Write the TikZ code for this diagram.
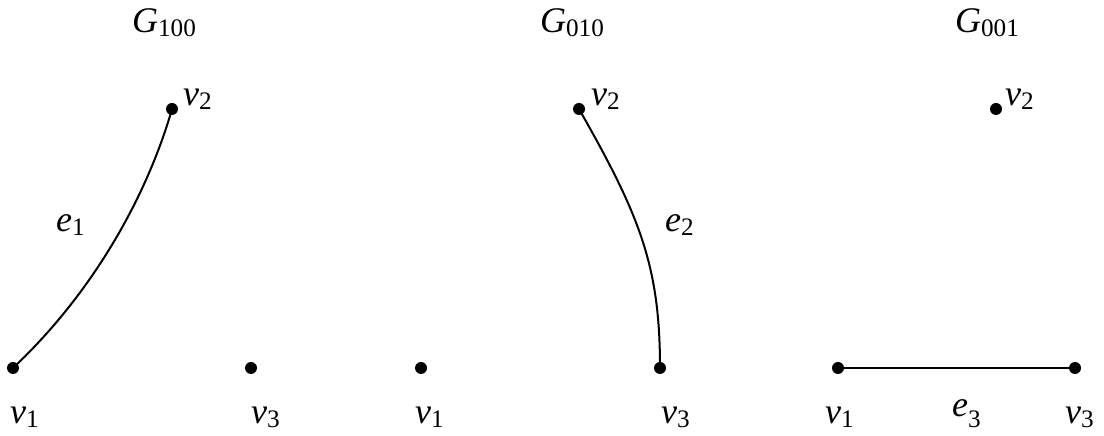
\documentclass[tikz,border=0pt]{standalone}
\usepackage{fontspec}
\usepackage{graphicx}
\setmainfont{Liberation Serif}
\newcommand\lblsub[3][-0.11em]{\textit{#2}\raisebox{#1}{\scalebox{0.7}{#3}}}
\begin{document}
\begin{tikzpicture}[x=1pt,y=1pt,
  vtx/.style={circle,fill=black,inner sep=0pt,minimum size=12pt},
  lbl/.style={font=\fontsize{36}{40}\selectfont,inner sep=0pt,anchor=base west},
  ttl/.style={font=\fontsize{36}{40}\selectfont,inner sep=0pt,anchor=base},
  edge/.style={line width=2pt}]
\useasboundingbox (0,0) rectangle (1104,436);
% graph 1
\node[ttl] (t1) at (164,403) {\lblsub{G}{100}};
\node[vtx] (a1) at (13,68) {};
\node[vtx] (a2) at (172,327) {};
\node[vtx] (a3) at (251,68) {};
\draw[edge] (a1.center) .. controls (100,150) and (150,250) .. (a2.center);
\node[lbl] (la1) at (10,12) {\lblsub{v}{1}};
\node[lbl] (la2) at (183,330) {\lblsub{v}{2}};
\node[lbl] (la3) at (251,12) {\lblsub{v}{3}};
\node[lbl] (le1) at (56,204) {\lblsub{e}{1}};
% graph 2
\node[ttl] (t2) at (572,403) {\lblsub{G}{010}};
\node[vtx] (b1) at (421,68) {};
\node[vtx] (b2) at (579,327) {};
\node[vtx] (b3) at (660,68) {};
\draw[edge] (b2.center) .. controls (640,220) and (660,170) .. (b3.center);
\node[lbl] (lb1) at (415,12) {\lblsub{v}{1}};
\node[lbl] (lb2) at (591,330) {\lblsub{v}{2}};
\node[lbl] (lb3) at (661,12) {\lblsub{v}{3}};
\node[lbl] (le2) at (665,204) {\lblsub{e}{2}};
% graph 3
\node[ttl] (t3) at (987,403) {\lblsub{G}{001}};
\node[vtx] (c1) at (838,68) {};
\node[vtx] (c2) at (996,327) {};
\node[vtx] (c3) at (1075,68) {};
\draw[edge] (c1.center) -- (c3.center);
\node[lbl] (lc1) at (825,12) {\lblsub{v}{1}};
\node[lbl] (lc2) at (1005,330) {\lblsub{v}{2}};
\node[lbl] (lc3) at (1065,12) {\lblsub{v}{3}};
\node[lbl] (le3) at (952,19) {\lblsub[-0.3em]{e}{3}};
\end{tikzpicture}
\end{document}
